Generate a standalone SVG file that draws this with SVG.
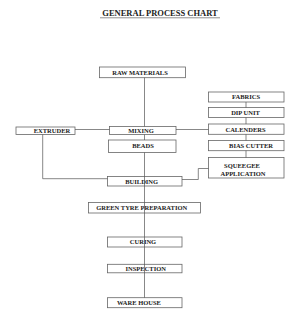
<svg xmlns="http://www.w3.org/2000/svg" width="297" height="320" viewBox="0 0 297 320">
<style>
.box{fill:#fff;stroke:#666;stroke-width:0.8}
.t{font-family:"Liberation Serif","Times New Roman",serif;font-weight:bold;font-size:6.5px;fill:#222;text-anchor:middle}
.c{fill:none;stroke:#555;stroke-width:0.7}
.title{font-family:"Liberation Serif","Times New Roman",serif;font-weight:bold;font-size:8.5px;fill:#222;text-anchor:middle}
</style>
<rect width="297" height="320" fill="#fff"/>
<g id="title">
<text class="title" x="160" y="16">GENERAL PROCESS CHART</text>
<line x1="100" y1="17.8" x2="220" y2="17.8" stroke="#444" stroke-width="0.6"/>
</g>
<g id="raw"><rect class="box" x="99.5" y="67" width="86" height="10.7"/><text class="t" x="140" y="74.6">RAW MATERIALS</text></g>
<g id="fabrics"><rect class="box" x="208.5" y="92" width="75.5" height="10"/><text class="t" x="246" y="99.3">FABRICS</text></g>
<g id="dip"><rect class="box" x="208.5" y="107.5" width="75.5" height="10"/><text class="t" x="245.5" y="114.8">DIP UNIT</text></g>
<g id="extruder"><rect class="box" x="16" y="127" width="59" height="7.5"/><text class="t" x="52" y="133">EXTRUDER</text></g>
<g id="mixing"><rect class="box" x="109.5" y="126.5" width="66.5" height="8"/><text class="t" x="141" y="132.8">MIXING</text></g>
<g id="calenders"><rect class="box" x="208.5" y="124" width="75.5" height="10.3"/><text class="t" x="245.5" y="131.5">CALENDERS</text></g>
<g id="beads"><rect class="box" x="108.5" y="140" width="67.5" height="12.5"/><text class="t" x="143" y="148.3">BEADS</text></g>
<g id="bias"><rect class="box" x="208.5" y="140.5" width="75.5" height="10.2"/><text class="t" x="251" y="148">BIAS CUTTER</text></g>
<g id="squeegee"><rect class="box" x="208.5" y="157.5" width="75.5" height="20.5"/><text class="t" x="242" y="168.3">SQUEEGEE</text><text class="t" x="243" y="176">APPLICATION</text></g>
<g id="building"><rect class="box" x="107.5" y="176.5" width="74.5" height="9.5"/><text class="t" x="141.7" y="183.6">BUILDING</text></g>
<g id="green"><rect class="box" x="88.5" y="202.5" width="112" height="10.5"/><text class="t" x="141.7" y="210">GREEN TYRE PREPARATION</text></g>
<g id="curing"><rect class="box" x="107.5" y="237" width="74.5" height="10"/><text class="t" x="143" y="244.3">CURING</text></g>
<g id="inspection"><rect class="box" x="107.5" y="264.3" width="74.5" height="8.5"/><text class="t" x="145.7" y="270.8">INSPECTION</text></g>
<g id="warehouse"><rect class="box" x="107.5" y="297.7" width="74.5" height="10"/><text class="t" x="139" y="305">WARE HOUSE</text></g>
<g id="connectors">
<line class="c" x1="144.5" y1="77.7" x2="144.5" y2="126.5"/>
<line class="c" x1="144.5" y1="134.5" x2="144.5" y2="140"/>
<line class="c" x1="144.5" y1="152.5" x2="144.5" y2="297.7"/>
<line class="c" x1="75" y1="129.5" x2="109.5" y2="129.5"/>
<line class="c" x1="176" y1="129.5" x2="208.5" y2="129.5"/>
<line class="c" x1="246" y1="102" x2="246" y2="107.5"/>
<line class="c" x1="246" y1="117.5" x2="246" y2="124"/>
<line class="c" x1="246" y1="134.3" x2="246" y2="140.5"/>
<line class="c" x1="246" y1="150.7" x2="246" y2="157.5"/>
<polyline class="c" points="42.7,134.5 42.7,178.7 107.5,178.7"/>
<polyline class="c" points="182,179.5 198.3,179.5 198.3,168.5 208.5,168.5"/>
</g>
</svg>
